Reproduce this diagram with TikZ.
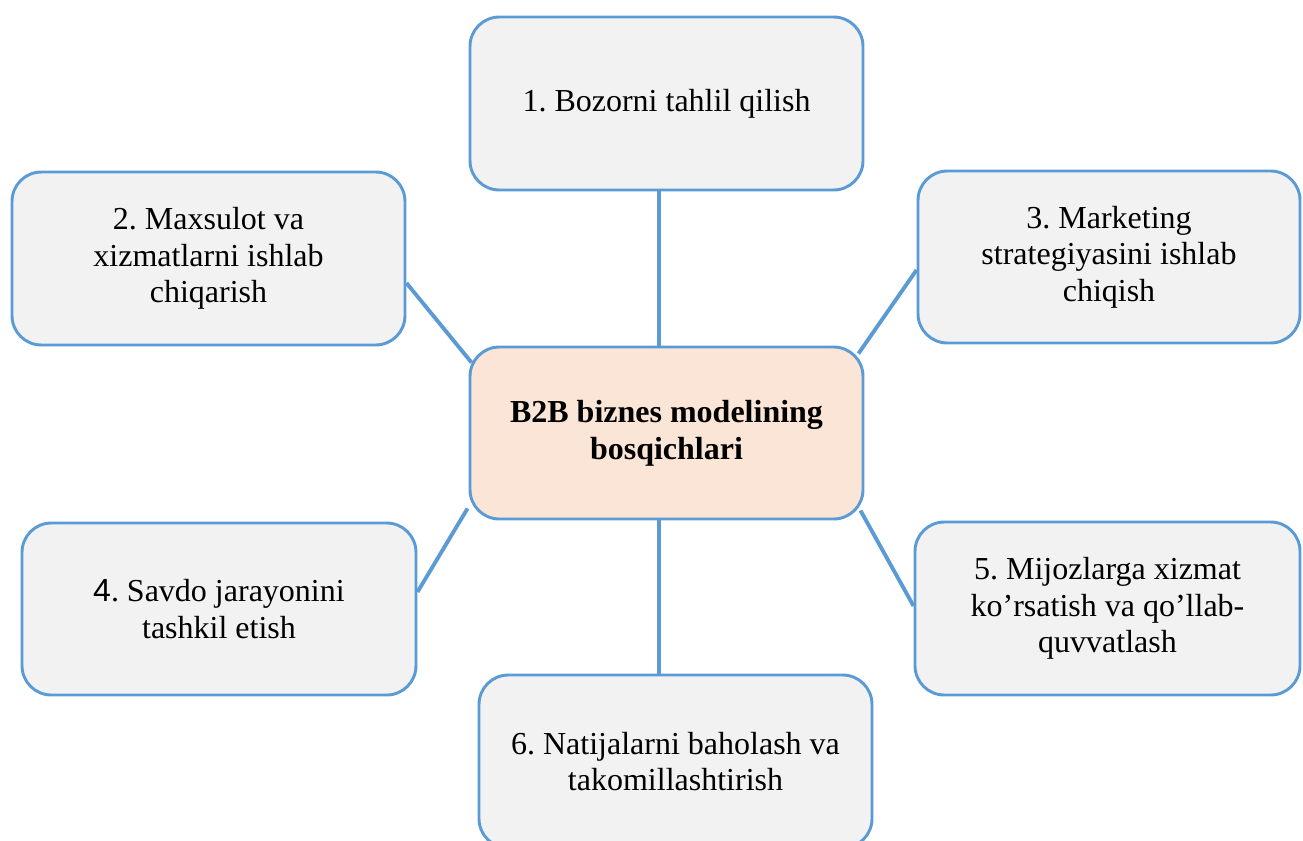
\documentclass[tikz,border=0pt]{standalone}
\usepackage{fontspec}
\setmainfont{Liberation Serif}
\newfontfamily\arialfont{Liberation Sans}
\usetikzlibrary{calc,backgrounds}
\definecolor{bordblue}{HTML}{5B9BD5}
\definecolor{boxgray}{HTML}{F2F2F2}
\definecolor{peach}{HTML}{FBE5D6}
\frenchspacing
\begin{document}
\begin{tikzpicture}[x=0.75pt,y=-0.75pt,
  stagebox/.style={draw=bordblue,line width=2.2pt,fill=boxgray,rounded corners=22pt,
    minimum width=#1*0.75pt,align=center,inner sep=0pt,
    font=\fontsize{24}{27.5}\selectfont\frenchspacing},
  stagebox/.default=393,
  hub/.style={stagebox,fill=peach,font=\fontsize{24}{27.5}\selectfont\bfseries},
  link/.style={draw=bordblue,line width=2.9pt}]
\useasboundingbox (0,0) rectangle (1303,840);
\node[stagebox,minimum height=173*0.75pt] (b1) at (666.5,103.5) {\raisebox{-3pt}{1. Bozorni tahlil qilish}};
\node[stagebox,minimum height=173*0.75pt] (b2) at (208.5,258.5) {2. Maxsulot va\\xizmatlarni ishlab\\chiqarish};
\node[stagebox=382,minimum height=172*0.75pt] (b3) at (1109,257) {3. Marketing\\strategiyasini ishlab\\chiqish};
\node[hub,minimum height=172*0.75pt] (c) at (666.5,433) {B2B biznes modelining\\bosqichlari};
\node[stagebox=394,minimum height=172*0.75pt] (b4) at (219,609) {{\arialfont 4}. Savdo jarayonini\\tashkil etish};
\node[stagebox=385,minimum height=173*0.75pt] (b5) at (1107.5,608.5) {5. Mijozlarga xizmat\\ko’rsatish va qo’llab-\\quvvatlash};
\node[stagebox,minimum height=173*0.75pt] (b6) at (675.5,761.5) {6. Natijalarni baholash va\\takomillashtirish};
\begin{scope}[on background layer]
\draw[link] ($(b1.south)+(-7.5,0)$) -- ($(c.north)+(-7.5,0)$);
\draw[link] ($(c.south)+(-7.5,0)$) -- ($(b6.north)+(-16.5,0)$);
\draw[link] ($(b2.east)+(0,24.5)$) -- ($(c.north west)+(3,17)$);
\draw[link] ($(b3.west)+(0,13)$) -- ($(c.north east)+(-6,8)$);
\draw[link] ($(c.south west)+(-1,-12)$) -- ($(b4.east)+(0,-17)$);
\draw[link] ($(c.south east)+(-4,-10)$) -- ($(b5.west)+(0,-2.5)$);
\end{scope}
\end{tikzpicture}
\end{document}
